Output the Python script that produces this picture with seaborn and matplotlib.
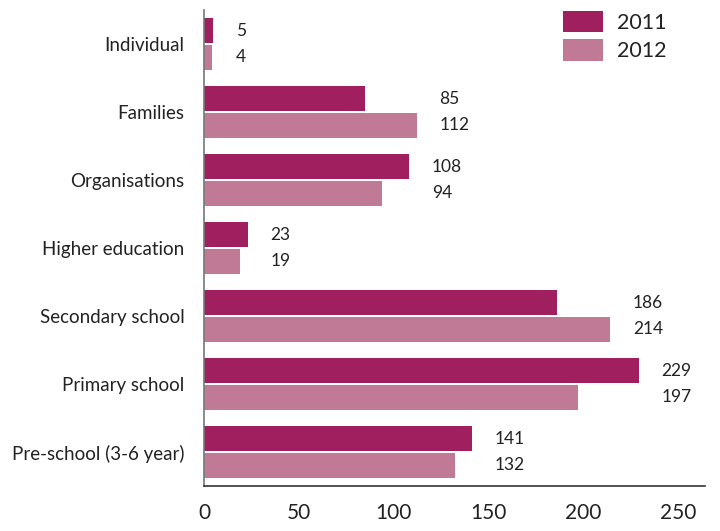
import matplotlib
matplotlib.use("Agg")
import matplotlib.pyplot as plt
import seaborn as sns
import pandas as pd
import numpy as np

categories = ["Individual", "Families", "Organisations", "Higher education",
              "Secondary school", "Primary school", "Pre-school (3-6 year)"]
values_2011 = [5, 85, 108, 23, 186, 229, 141]
values_2012 = [4, 112, 94, 19, 214, 197, 132]
years = ["2011", "2012"]
x_ticks = [0, 50, 100, 150, 200, 250]

colors = {"2011": "#A01F5E", "2012": "#C17A95"}

sns.set_style("white")
plt.rcParams["font.family"] = ["Lato", "DejaVu Sans"]

df = pd.DataFrame({
    "category": categories * 2,
    "value": values_2011 + values_2012,
    "year": [years[0]] * len(categories) + [years[1]] * len(categories),
})

fig = plt.figure(figsize=(7.2, 5.31), dpi=100)
ax = fig.add_axes([204 / 720, 1 - 486 / 531, (705 - 204) / 720, (486 - 10) / 531])

sns.barplot(data=df, y="category", x="value", hue="year", order=categories,
            hue_order=years, palette=colors, orient="h", width=0.77, gap=0.05,
            saturation=1, linewidth=0, ax=ax, legend=False)

ax.set_xlim(0, 264)
ax.set_ylim(len(categories) - 0.5, -0.5)
ax.set_xlabel("")
ax.set_ylabel("")

for s in ["top", "right"]:
    ax.spines[s].set_visible(False)
ax.spines["left"].set_color("#777777")
ax.spines["bottom"].set_color("#333333")
ax.spines["left"].set_linewidth(1.2)
ax.spines["bottom"].set_linewidth(1.2)

ax.set_xticks(x_ticks)
ax.set_xticklabels([str(t) for t in x_ticks], fontsize=15, color="#222222")
ax.tick_params(axis="x", direction="in", length=8, width=1.1, color="#333333", pad=12)

ax.set_yticks(range(len(categories)))
ax.set_yticklabels(categories, fontsize=13.5, color="#222222")
ax.tick_params(axis="y", which="major", length=0, pad=14)
ax.set_yticks(np.arange(-0.5, len(categories) - 0.5, 1), minor=True)
ax.tick_params(axis="y", which="minor", direction="in", length=8, width=1.1, color="#333333")

# value labels
bar_off = 0.77 / 4
for i, (a, b) in enumerate(zip(values_2011, values_2012)):
    xl = max(a, b) + 12
    ax.text(xl, i - bar_off, str(a), va="center", ha="left", fontsize=12.5, color="#222222")
    ax.text(xl, i + bar_off, str(b), va="center", ha="left", fontsize=12.5, color="#222222")

handles = [plt.Rectangle((0, 0), 1, 1, color=colors[y], linewidth=0) for y in years]
fig.legend(handles, years, loc="upper left", bbox_to_anchor=(563 / 720, 1 - 11 / 531),
           frameon=False, fontsize=15.5, handlelength=1.85, handleheight=1.15,
           handletextpad=0.65, labelspacing=0.3, borderpad=0, borderaxespad=0,
           labelcolor="#222222")

fig.savefig("out.png", dpi=100)
